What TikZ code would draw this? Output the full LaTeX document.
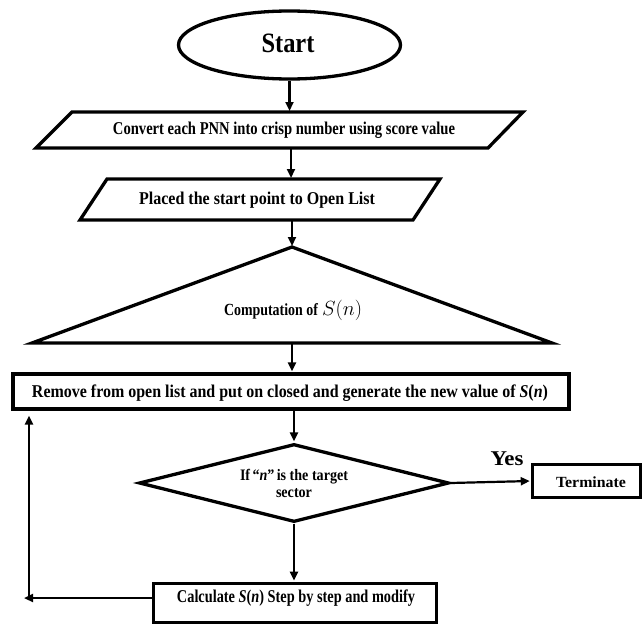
\documentclass[tikz,border=0pt]{standalone}
\usepackage{fontspec}
\setmainfont{Liberation Serif}
\usepackage{graphicx}
\usetikzlibrary{shapes.geometric,arrows.meta}
\newcommand{\fw}[2]{\resizebox{#1}{\height}{#2}}
\begin{document}
\begin{tikzpicture}[x=1pt,y=-1pt,
  box/.style={draw, line width=3.3pt, inner sep=0pt},
  outline/.style={draw, line width=3.3pt, line join=miter},
  arr/.style={line width=2.2pt, -{Triangle[length=9pt,width=8pt]}, shorten >=1pt},
  txt/.style={font=\bfseries, inner sep=0pt}]
\useasboundingbox (0,0) rectangle (642,626);

% Start
\node[box, ellipse, minimum width=222pt, minimum height=68pt] (start) at (289.5,45) {};
\node[txt] (starttxt) at (288,43) {\fontsize{28}{30}\selectfont\fw{53pt}{Start}};

% Parallelogram 1
\draw[outline] (36,148) -- (72,112) -- (523,112) -- (488,148) -- cycle;
\coordinate (p1t) at (289.5,112);
\coordinate (p1b) at (291,148);
\node[txt] (conv) at (284,130) {\fontsize{18}{20}\selectfont\fw{342pt}{Convert each PNN into crisp number using score value}};

% Parallelogram 2
\draw[outline] (80,220) -- (107,179) -- (440,179) -- (413,220) -- cycle;
\coordinate (p2t) at (291,179);
\coordinate (p2b) at (292,220);
\node[txt] (placed) at (257,200) {\fontsize{18}{20}\selectfont\fw{236pt}{Placed the start point to Open List}};

% Triangle
\draw[outline] (32,343) -- (292,247) -- (552,343) -- cycle;
\coordinate (tria) at (292,247);
\coordinate (trib) at (292,343);
\node[txt] (comp) at (293,310) {\fontsize{17}{19}\selectfont\fw{94pt}{Computation of}\hspace{4pt}\resizebox{40pt}{!}{$S(n)$}};

% Remove box
\node[box, minimum width=556pt, minimum height=35pt] (remove) at (291,391.5) {};
\node[txt] (removetxt) at (290,393) {\fontsize{18}{20}\selectfont\fw{516pt}{Remove from open list and put on closed and generate the new value of \textit{S}(\textit{n})}};

% Diamond
\node[box, diamond, aspect=4, minimum width=310pt, minimum height=78pt] (dia) at (294,483) {};
\node[txt, align=center, font=\fontsize{16}{17}\selectfont\bfseries] (diatxt) at (294,483) {\fw{108pt}{If\,“\textit{n}”\,is the target}\\\fw{36pt}{sector}};

% Terminate
\node[box, minimum width=108.6pt, minimum height=33.2pt] (term) at (586.7,481) {};
\node[txt] (termtxt) at (591,482) {\fontsize{15.5}{17}\selectfont\fw{70pt}{Terminate}};
\node[txt] (yes) at (507,459) {\fontsize{21}{23}\selectfont\fw{33pt}{Yes}};

% Calculate
\node[box, minimum width=283.4pt, minimum height=39.4pt] (calc) at (295,603) {};
\node[txt] (calctxt) at (296,598) {\fontsize{18}{20}\selectfont\fw{238pt}{Calculate \textit{S}(\textit{n}) Step by step and modify}};

% Connectors
\draw[arr] (start.south) -- (p1t);
\draw[arr] (p1b) -- (p2t);
\draw[arr] (p2b) -- (tria);
\draw[arr] (trib) -- (trib |- remove.north);
\draw[arr] (remove.south -| dia.north) -- (dia.north);
\draw[arr] (dia.south) -- (calc.north -| dia.south);
\draw[arr] (dia.east) -- (term.west);
\coordinate (lc) at (23,598);
\coordinate (lb) at (29,598);
\draw[arr] ([yshift=5pt]calc.west) -- (lc);
\draw[arr, shorten >=5pt] (lb) -- (lb |- remove.south);
\end{tikzpicture}
\end{document}
